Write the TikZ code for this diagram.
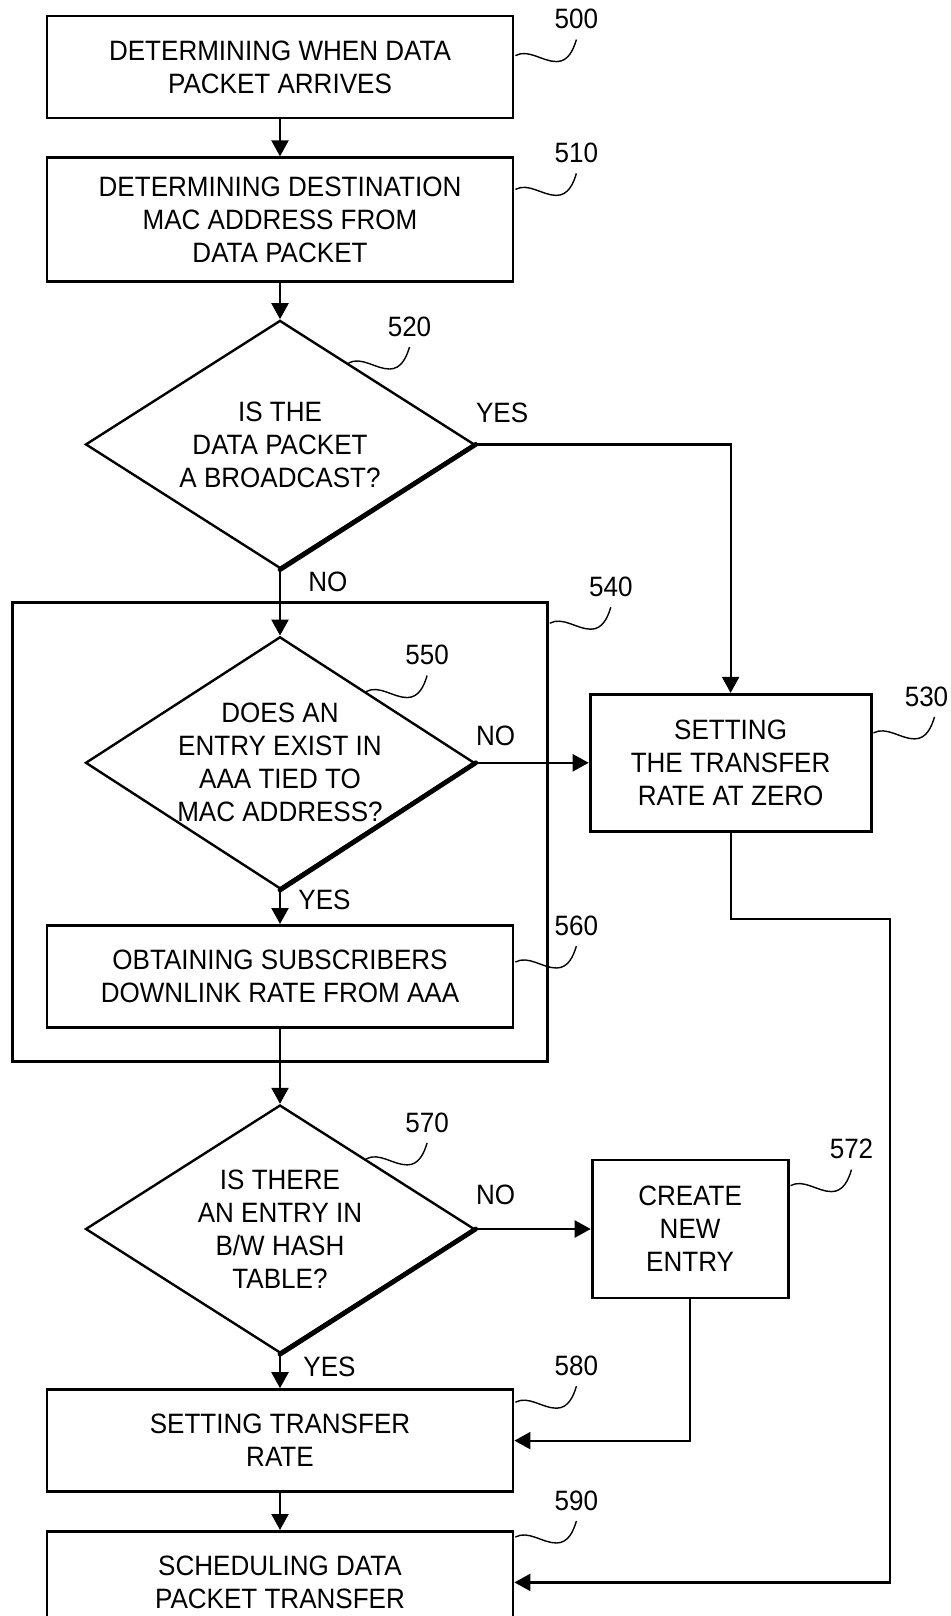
\documentclass[tikz,border=0pt]{standalone}
\usepackage{fontspec}
\setmainfont{Liberation Sans}[FakeStretch=0.93]
\usepackage{tikz}
\usetikzlibrary{positioning,arrows.meta,shapes.geometric,fit,calc}

% reference numeral with its wavy leader
\newcommand{\refnum}[4][0pt]{%
  \draw[lead] #2 .. controls +(13,-7) and +(-14,0) .. ++(41,6)
    .. controls +(12,0) and +(-3,10) .. ++(20,-22) coordinate (#3-e);
  \node[refl, above=5pt of #3-e, xshift=#1] (#3) {#4};
}

\begin{document}
\begin{tikzpicture}[
  x=0.5pt, y=-0.5pt,
  font=\fontsize{14}{16.5}\selectfont,
  box/.style={draw, line width=1.4pt, align=center, inner sep=2pt,
              minimum width=233pt, minimum height=51pt},
  dec/.style={draw, diamond, aspect=1.57, line width=1.2pt, align=center,
              inner sep=-3pt, minimum width=194.5pt, minimum height=124pt},
  grp/.style={draw, line width=1.4pt, inner sep=16.5pt},
  yn/.style={inner sep=0pt},
  refl/.style={inner sep=0pt},
  lead/.style={line width=0.7pt},
  edge/.style={line width=2.4pt, line cap=round},
  >={Triangle[length=8pt, width=8.5pt]},
  arr/.style={->, line width=1.1pt}
]
  \useasboundingbox (0,0) rectangle (951,1616);

  % --- main column
  \node[box] (b500) at (280,67) {DETERMINING WHEN DATA\\PACKET ARRIVES};
  \node[box, minimum height=62pt] (b510) [below=18.5pt of b500]
       {DETERMINING DESTINATION\\MAC ADDRESS FROM\\DATA PACKET};
  \node[dec] (d520) [below=18pt of b510] {IS THE\\DATA PACKET\\A BROADCAST?};
  \node[dec, minimum height=126pt] (d550) [below=33pt of d520]
       {DOES AN\\ENTRY EXIST IN\\AAA TIED TO\\MAC ADDRESS?};
  \node[box] (b560) [below=17pt of d550] {OBTAINING SUBSCRIBERS\\DOWNLINK RATE FROM AAA};
  \node[dec] (d570) [below=37.5pt of b560] {IS THERE\\AN ENTRY IN\\B/W HASH\\TABLE?};
  \node[box] (b580) [below=17pt of d570] {SETTING TRANSFER\\RATE};
  \node[box] (b590) [below=18.5pt of b580] {SCHEDULING DATA\\PACKET TRANSFER};

  % --- side boxes
  \node[box, minimum width=140.5pt, minimum height=68.5pt] (b530) [right=56.5pt of d550]
       {SETTING\\THE TRANSFER\\RATE AT ZERO};
  \node[box, minimum width=98pt, minimum height=69pt] (b572) [right=57.5pt of d570]
       {CREATE\\NEW\\ENTRY};

  % --- group 540
  \node[grp, fit=(d550)(b560)] (g540) {};

  % heavy lower right edges of the decisions
  \draw[edge] (d520.east) -- (d520.south);
  \draw[edge] (d550.east) -- (d550.south);
  \draw[edge] (d570.east) -- (d570.south);

  % --- flow
  \draw[arr] (b500) -- (b510);
  \draw[arr] (b510) -- (d520);
  \draw[arr] (d520) -- (d550);
  \draw[arr] (d520.east) -| (b530.north);
  \draw[arr] (d550) -- (b530);
  \draw[arr] (d550) -- (b560);
  \draw[arr] (b560) -- (d570);
  \draw[arr] (d570) -- (b572);
  \draw[arr] (d570) -- (b580);
  \draw[arr] (b580) -- (b590);
  \draw[arr] (b572.south) |- (b580.east);
  \coordinate (c530) at (890,919);
  \draw[arr] (b530.south) |- (c530) |- (b590.east);

  % --- yes / no
  \node[yn, above right=10.5pt and 0pt of d520.east] (y520) {YES};
  \node[yn, below right=1pt and 14pt of d520.south] (n520) {NO};
  \node[yn, above right=8.5pt and 0pt of d550.east] (n550) {NO};
  \node[yn, below right=0pt and 9pt of d550.south] (y550) {YES};
  \node[yn, above right=12pt and 0pt of d570.east] (n570) {NO};
  \node[yn, below right=1pt and 11.5pt of d570.south] (y570) {YES};

  % --- numerals
  \refnum{($(b500.north east)+(1,41)$)}{r500}{500}
  \refnum{($(b510.north east)+(1,33)$)}{r510}{510}
  \refnum{($(d520.north)!0.35!(d520.east)$)}{r520}{520}
  \refnum{($(g540.north east)+(1,22)$)}{r540}{540}
  \refnum{($(d550.north)!0.44!(d550.east)$)}{r550}{550}
  \refnum[-4pt]{($(b530.north east)+(1,40)$)}{r530}{530}
  \refnum{($(b560.north east)+(1,38)$)}{r560}{560}
  \refnum{($(d570.north)!0.44!(d570.east)$)}{r570}{570}
  \refnum{($(b572.north east)+(1,27)$)}{r572}{572}
  \refnum{($(b580.north east)+(1,14)$)}{r580}{580}
  \refnum{($(b590.north east)+(1,7)$)}{r590}{590}
\end{tikzpicture}
\end{document}
